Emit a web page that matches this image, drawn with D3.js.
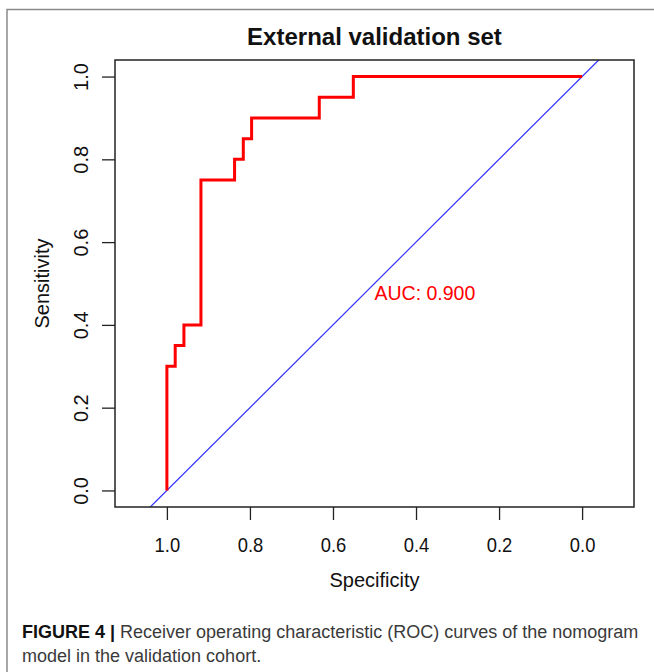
<!DOCTYPE html>
<html>
<head>
<meta charset="utf-8">
<script src="https://cdn.jsdelivr.net/npm/d3@7"></script>
<style>
	body {margin:0; background:#fff;}
	text {font-family:"Liberation Sans", Arial, sans-serif;}
</style>
</head>
<body>
<div class="canvas"></div>
<script>
//ROC curve steps (specificity goes 1 -> 0)
var specificity = [1, 1, 0.980, 0.980, 0.959, 0.959, 0.918, 0.918, 0.837, 0.837, 0.816, 0.816, 0.796, 0.796, 0.633, 0.633, 0.551, 0.551, 0];
var sensitivity = [0, 0.30, 0.30, 0.35, 0.35, 0.40, 0.40, 0.75, 0.75, 0.80, 0.80, 0.85, 0.85, 0.90, 0.90, 0.95, 0.95, 1.00, 1.00];

//tick labels
var xTicks = [1.0, 0.8, 0.6, 0.4, 0.2, 0.0];
var yTicks = [0.0, 0.2, 0.4, 0.6, 0.8, 1.0];

var aucLabel = 'AUC: 0.900';
var title = 'External validation set';

//Set up the drawing environment here
var W = 654, H = 672;
var margin = {t:60,l:115};
var width = 519,
	height = 447;

var svg = d3.select('.canvas')
	.append('svg')
	.attr('width',W)
	.attr('height',H);

//grey figure frame, runs off the right and bottom
svg.append('rect')
	.attr('x',7).attr('y',9.5)
	.attr('width',W+10).attr('height',H+10)
	.style('fill','none')
	.style('stroke','#8a8a8a')
	.style('stroke-width',1.5);

var plot = svg.append('g')
	.attr('class','plot')
	.attr('transform','translate('+margin.l+','+margin.t+')');

//scales: x is reversed, both padded like R does
var scaleX = d3.scaleLinear().domain([1.125,-0.125]).range([0,width]);
var scaleY = d3.scaleLinear().domain([-0.04,1.04]).range([height,0]);

plot.append('clipPath').attr('id','clip')
	.append('rect').attr('width',width).attr('height',height);

//diagonal reference line
var yd = scaleY.domain();
plot.append('line')
	.attr('clip-path','url(#clip)')
	.attr('x1',scaleX(1-yd[0])).attr('y1',scaleY(yd[0]))
	.attr('x2',scaleX(1-yd[1])).attr('y2',scaleY(yd[1]))
	.style('stroke','#3333ff')
	.style('stroke-width',1.2);

//the ROC curve
var pts = specificity.map(function(s,i){ return [s, sensitivity[i]]; });
var line = d3.line()
	.x(function(d){ return scaleX(d[0]); })
	.y(function(d){ return scaleY(d[1]); });

plot.append('path')
	.datum(pts)
	.attr('d',line)
	.style('fill','none')
	.style('stroke','#ff0000')
	.style('stroke-width',3)
	.style('stroke-linejoin','miter');

plot.append('text')
	.attr('x',scaleX(0.5))
	.attr('y',scaleY(0.5))
	.attr('dy','0.85em')
	.style('font-size','19.5px')
	.style('fill','#ff0000')
	.text(aucLabel);

//box
plot.append('rect')
	.attr('width',width).attr('height',height)
	.style('fill','none')
	.style('stroke','#222')
	.style('stroke-width',1.5);

//axes
var axisX = plot.append('g')
	.attr('transform','translate(0,'+height+')')
	.call(d3.axisBottom(scaleX).tickValues(xTicks).tickSize(13).tickFormat(d3.format('.1f')));
axisX.select('.domain').remove();
axisX.selectAll('line').style('stroke','#222').style('stroke-width',1.3);
axisX.selectAll('text')
	.attr('y',45).attr('dy',0)
	.style('font-size','20px')
	.style('fill','#111')
	.attr('transform','scale(0.92,1)');

var axisY = plot.append('g')
	.call(d3.axisLeft(scaleY).tickValues(yTicks).tickSize(13).tickFormat(d3.format('.1f')));
axisY.select('.domain').remove();
axisY.selectAll('line').style('stroke','#222').style('stroke-width',1.3);
axisY.selectAll('text')
	.attr('x',0).attr('y',0).attr('dy',0)
	.style('text-anchor','middle')
	.style('font-size','20px')
	.style('fill','#111')
	.attr('transform','translate(-27,0) rotate(-90)');

//titles
svg.append('text')
	.attr('x',margin.l+width/2).attr('y',45)
	.style('text-anchor','middle')
	.style('font-size','24px')
	.style('font-weight','bold')
	.style('fill','#111')
	.text(title);

svg.append('text')
	.attr('x',margin.l+width/2).attr('y',587)
	.style('text-anchor','middle')
	.style('font-size','20px')
	.style('fill','#111')
	.text('Specificity');

svg.append('text')
	.attr('transform','translate(48.5,'+(margin.t+height/2)+') rotate(-90)')
	.style('text-anchor','middle')
	.style('font-size','20px')
	.style('fill','#111')
	.text('Sensitivity');

//figure caption
var cap = svg.append('text')
	.attr('x',22).attr('y',638)
	.style('font-size','18px')
	.style('fill','#3a3a3a');
cap.append('tspan').style('font-weight','bold').style('fill','#111').text('FIGURE 4 |');
cap.append('tspan').text(' Receiver operating characteristic (ROC) curves of the nomogram');

svg.append('text')
	.attr('x',22).attr('y',662)
	.style('font-size','18px')
	.style('fill','#3a3a3a')
	.text('model in the validation cohort.');
</script>
</body>
</html>
